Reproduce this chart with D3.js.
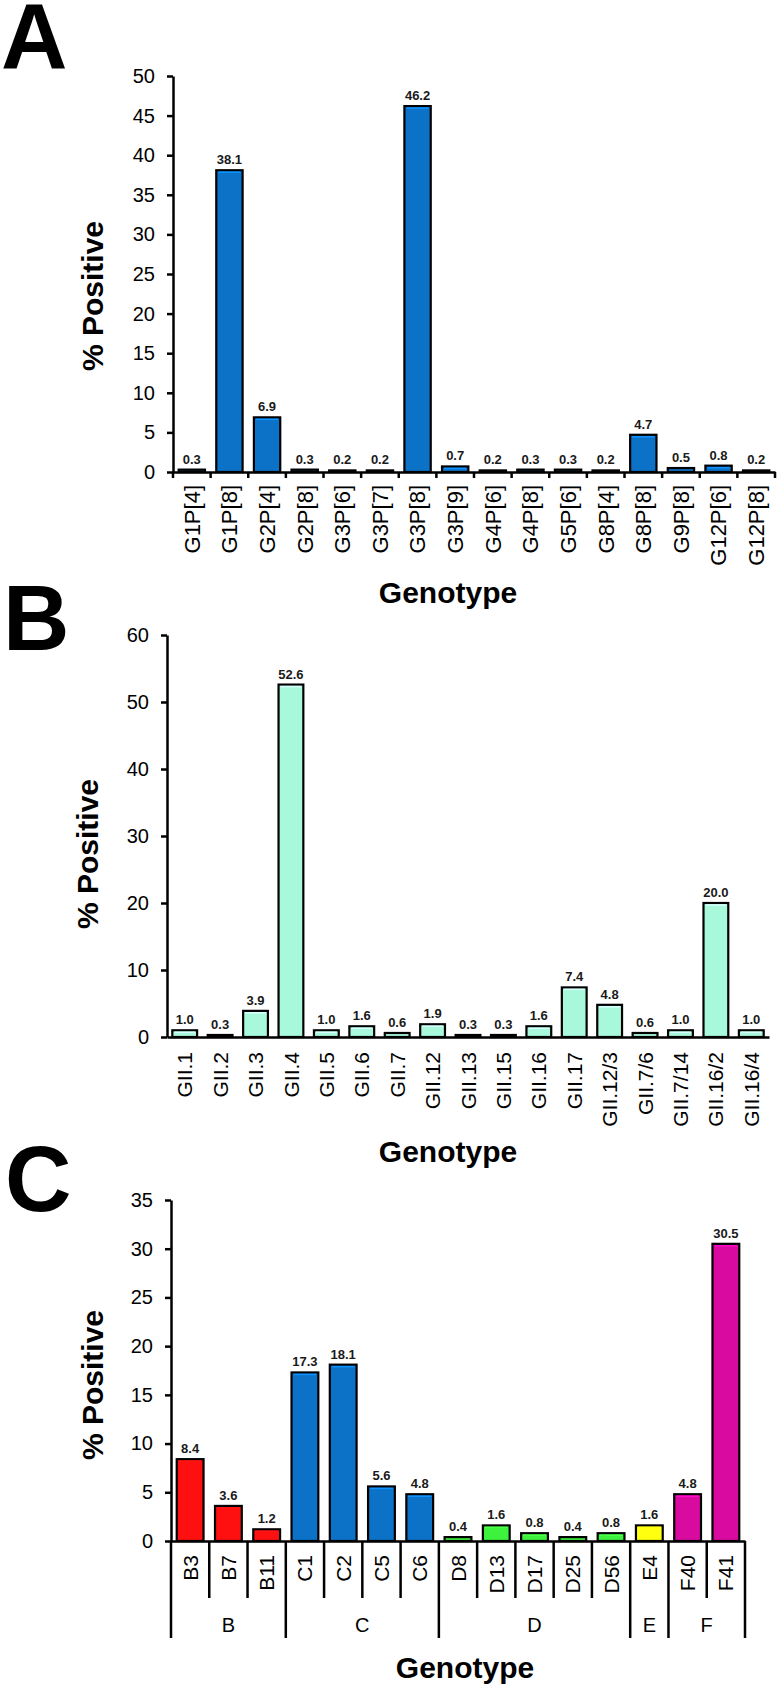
<!DOCTYPE html>
<html><head><meta charset="utf-8">
<script src="https://cdn.jsdelivr.net/npm/d3@7"></script>
<style>body{margin:0;background:#fff} svg{display:block;font-family:"Liberation Sans",Arial,Helvetica,sans-serif}</style>
</head><body><svg id="c" width="778" height="1690"></svg>
<script>
// ---- Panel A data ----
const catsA = ["G1P[4]","G1P[8]","G2P[4]","G2P[8]","G3P[6]","G3P[7]","G3P[8]","G3P[9]","G4P[6]","G4P[8]","G5P[6]","G8P[4]","G8P[8]","G9P[8]","G12P[6]","G12P[8]"];
const valsA = [0.3,38.1,6.9,0.3,0.2,0.2,46.2,0.7,0.2,0.3,0.3,0.2,4.7,0.5,0.8,0.2];
const ticksA = [0,5,10,15,20,25,30,35,40,45,50];
// ---- Panel B data ----
const catsB = ["GII.1","GII.2","GII.3","GII.4","GII.5","GII.6","GII.7","GII.12","GII.13","GII.15","GII.16","GII.17","GII.12/3","GII.7/6","GII.7/14","GII.16/2","GII.16/4"];
const valsB = [1.0,0.3,3.9,52.6,1.0,1.6,0.6,1.9,0.3,0.3,1.6,7.4,4.8,0.6,1.0,20.0,1.0];
const ticksB = [0,10,20,30,40,50,60];
// ---- Panel C data ----
const catsC = ["B3","B7","B11","C1","C2","C5","C6","D8","D13","D17","D25","D56","E4","F40","F41"];
const valsC = [8.4,3.6,1.2,17.3,18.1,5.6,4.8,0.4,1.6,0.8,0.4,0.8,1.6,4.8,30.5];
const groupsC = ["B","B","B","C","C","C","C","D","D","D","D","D","E","F","F"];
const ticksC = [0,5,10,15,20,25,30,35];
const groupColors = {B:"#FF1010", C:"#0B72C7", D:"#3CF23C", E:"#FFFF10", F:"#D80AA0"};
const colorA = "#0B72C7";
const colorB = "#A8F9DC";

const svg = d3.select("#c");

function panel(o) {
  const g = svg.append("g");
  const x = d3.scaleBand().domain(o.cats).range([o.left, o.right]).paddingInner(0.3).paddingOuter(0.15);
  const y = d3.scaleLinear().domain([0, o.max]).range([o.bottom, o.top]);
  const edge = d => x(d) - x.step() * x.paddingInner() / 2;

  // bars
  g.selectAll("rect.bar").data(o.cats).join("rect")
    .attr("class","bar")
    .attr("x", d => x(d)).attr("width", x.bandwidth())
    .attr("y", (d,i) => y(o.vals[i]))
    .attr("height", (d,i) => y(0) - y(o.vals[i]))
    .attr("fill", (d,i) => o.color(i))
    .attr("stroke", "#000").attr("stroke-width", 2.2);
  // top highlight (bevel)
  g.selectAll("line.hl").data(o.cats).join("line")
    .attr("class","hl")
    .attr("x1", d => x(d) + 2).attr("x2", d => x(d) + x.bandwidth() - 2)
    .attr("y1", (d,i) => Math.min(y(o.vals[i]) + 2, y(0)))
    .attr("y2", (d,i) => Math.min(y(o.vals[i]) + 2, y(0)))
    .attr("stroke", (d,i) => d3.color(o.color(i)).brighter(0.7))
    .attr("stroke-width", (d,i) => (y(0) - y(o.vals[i]) > 5 ? 1.5 : 0));
  // value labels
  g.selectAll("text.val").data(o.cats).join("text")
    .attr("class","val")
    .attr("x", d => x(d) + x.bandwidth()/2)
    .attr("y", (d,i) => y(o.vals[i]) - 6)
    .attr("text-anchor","middle")
    .attr("font-size", 13).attr("font-weight","bold").attr("fill","#1a1a1a")
    .text((d,i) => o.vals[i].toFixed(1));

  // y axis
  const ya = g.append("g").attr("transform", `translate(${o.left},0)`)
    .call(d3.axisLeft(y).tickValues(o.ticks).tickSize(6).tickPadding(12).tickSizeOuter(0));
  ya.select(".domain").attr("stroke","#000").attr("stroke-width",2.5);
  ya.selectAll(".tick line").attr("stroke","#000").attr("stroke-width",2.5);
  ya.selectAll(".tick text").attr("font-size",20).attr("fill","#000").attr("font-family","Liberation Sans, Arial, sans-serif");

  // x axis
  const xa = g.append("g").attr("transform", `translate(0,${y(0)})`)
    .call(d3.axisBottom(x).tickSize(0).tickSizeOuter(0));
  xa.select(".domain").attr("stroke","#000").attr("stroke-width",2.5);
  xa.selectAll(".tick text")
    .attr("transform","rotate(-90)")
    .attr("x", -o.labPad).attr("y", 0).attr("dy","0.36em")
    .style("text-anchor","end")
    .attr("font-size", o.labSize).attr("fill","#000")
    .attr("font-family","Liberation Sans, Arial, sans-serif");

  // boundary ticks
  if (o.tickLen) {
    const n = o.cats.length;
    const bounds = o.cats.map((d,i) => i).concat([n]);
    g.selectAll("line.bt").data(bounds).join("line")
      .attr("class","bt")
      .attr("x1", i => i < n ? edge(o.cats[i]) : edge(o.cats[n-1]) + x.step())
      .attr("x2", i => i < n ? edge(o.cats[i]) : edge(o.cats[n-1]) + x.step())
      .attr("y1", y(0))
      .attr("y2", i => {
        if (!o.groups) return y(0) + o.tickLen;
        const isGroup = i === 0 || i === n || o.groups[i] !== o.groups[i-1];
        return y(0) + (isGroup ? o.groupLen : o.tickLen);
      })
      .attr("stroke","#000").attr("stroke-width",2.5);
  }
  // group labels
  if (o.groups) {
    const gnames = Array.from(new Set(o.groups));
    g.selectAll("text.grp").data(gnames).join("text")
      .attr("class","grp")
      .attr("x", gn => {
        const idx = o.groups.map((v,i)=>v===gn?i:-1).filter(i=>i>=0);
        const a = edge(o.cats[idx[0]]), b = edge(o.cats[idx[idx.length-1]]) + x.step();
        return (a+b)/2;
      })
      .attr("y", y(0) + o.groupLabY)
      .attr("text-anchor","middle").attr("font-size",20).attr("fill","#000")
      .text(gn => gn);
  }

  // titles
  g.append("text").attr("x", o.xTitleX).attr("y", o.xTitleY)
    .attr("text-anchor","middle").attr("font-size",30).attr("font-weight","bold")
    .text("Genotype");
  g.append("text").attr("transform", `translate(${o.yTitleX},${o.yTitleY}) rotate(-90)`)
    .attr("text-anchor","middle").attr("font-size",30).attr("font-weight","bold")
    .text("% Positive");
  // panel letter
  g.append("text").attr("x", o.letterX).attr("y", o.letterY)
    .attr("font-size",92).attr("font-weight","bold").text(o.letter);
}

panel({cats:catsA, vals:valsA, ticks:ticksA, max:50, color:()=>colorA,
  left:173, right:775, top:76, bottom:472, labPad:13, labSize:22, tickLen:6,
  xTitleX:448, xTitleY:603, yTitleX:103, yTitleY:296, letter:"A", letterX:1, letterY:68});
panel({cats:catsB, vals:valsB, ticks:ticksB, max:60, color:()=>colorB,
  left:167, right:769, top:635, bottom:1037, labPad:15, labSize:21, tickLen:0,
  xTitleX:448, xTitleY:1162, yTitleX:98, yTitleY:854, letter:"B", letterX:3, letterY:650});
panel({cats:catsC, vals:valsC, ticks:ticksC, max:35, color:i=>groupColors[groupsC[i]],
  left:171, right:745, top:1200, bottom:1541, labPad:14, labSize:21, tickLen:57, groupLen:97, groups:groupsC, groupLabY:91,
  xTitleX:465, xTitleY:1678, yTitleX:103, yTitleY:1385, letter:"C", letterX:5, letterY:1211});
</script>
</body></html>
